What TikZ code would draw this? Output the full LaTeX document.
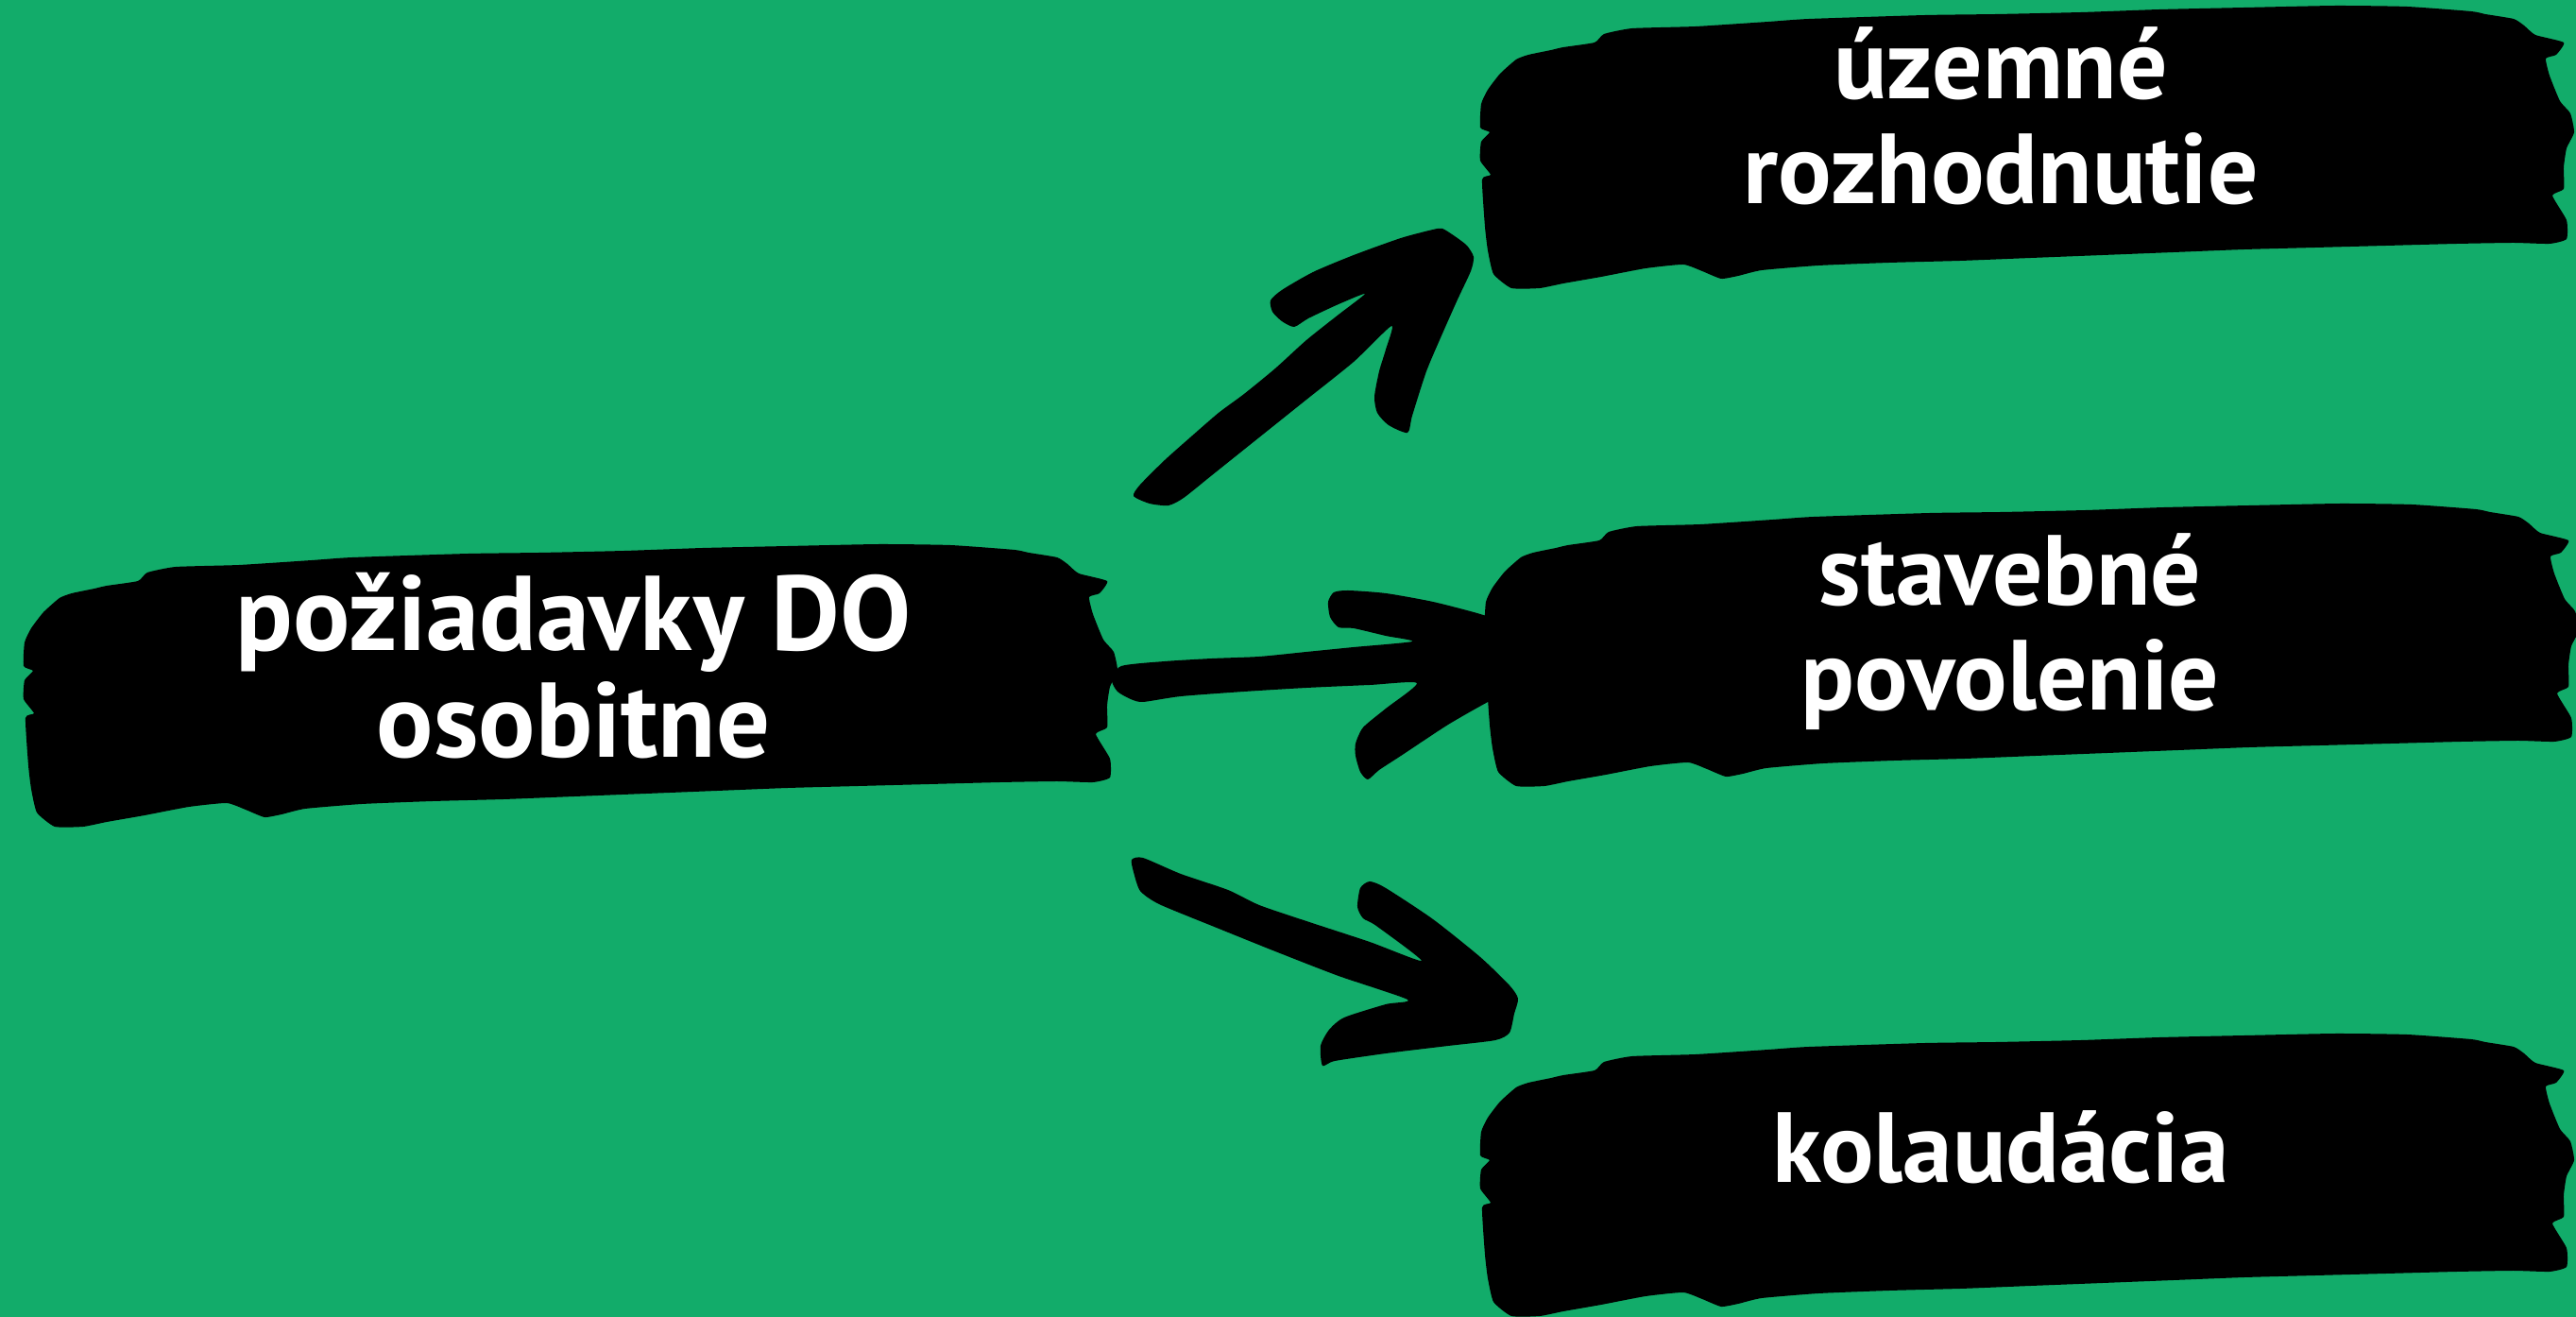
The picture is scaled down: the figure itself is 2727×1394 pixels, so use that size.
\documentclass[tikz,border=0pt]{standalone}
\usepackage{fontspec}
\setmainfont{PT Sans}
\usepackage{tikz}

\definecolor{brushgreen}{RGB}{18,172,106}

% one brush stroke box, #1 = shift of its top left corner
\newcommand{\brushbox}[1]{%
  \fill[black, shift={#1}] plot[smooth cycle, tension=0.3] coordinates {
    (10,95) (3,110) (2,135) (12,140) (3,150) (2,170) (13,185) (4,190) (7,240)
    (10,265) (16,290) (35,305) (65,305) (90,300) (130,293) (177,284) (217,280)
    (237,287) (257,295) (275,292) (300,286) (360,281) (435,278) (510,276)
    (585,273) (661,270) (736,267) (811,264) (886,262) (961,260) (1036,258)
    (1096,257) (1134,258) (1152,253) (1152,233) (1137,207) (1149,200)
    (1149,177) (1152,157) (1160,140) (1156,120) (1145,107) (1134,80) (1130,62)
    (1141,58) (1149,45) (1119,37) (1107,27) (1096,20) (1066,15) (1051,12)
    (983,7) (908,6) (811,8) (721,10) (638,13) (548,15) (473,16) (350,20)
    (307,23) (230,28) (163,30) (133,36) (123,45) (90,50) (77,53) (53,58)
    (40,63) (23,78)};}

\begin{document}
\begin{tikzpicture}[x=0.1mm, y=-0.1mm,
    boxtext/.style={text=white, font=\bfseries\fontsize{30}{31.8}\selectfont,
      align=center, anchor=base, inner sep=0pt},
    bigtext/.style={boxtext, font=\bfseries\fontsize{32}{32.4}\selectfont},
    brush/.style={fill=black}]
    % background
    \fill[brushgreen] (0,0) rectangle (2727,1394);
    \useasboundingbox (0,0) rectangle (2727,1394);

    % draw brush arrows
    \fill[brush] plot[smooth cycle, tension=0.4] coordinates {
      (1200,525) (1217,533) (1237,535) (1253,527) (1283,503) (1333,463)
      (1383,423) (1433,383) (1473,345) (1467,370) (1460,393) (1455,420)
      (1458,437) (1470,450) (1490,458) (1495,440) (1510,393) (1527,353)
      (1543,317) (1557,287) (1560,272) (1553,260) (1540,250) (1527,242)
      (1517,243) (1483,252) (1433,270) (1390,288) (1357,307) (1345,318)
      (1347,330) (1357,340) (1370,346) (1385,337) (1417,322) (1445,311)
      (1417,333) (1383,360) (1350,390) (1317,417) (1290,437) (1260,463)
      (1233,487) (1207,513)};
    \fill[brush] plot[smooth cycle, tension=0.4] coordinates {
      (1177,720) (1187,705) (1233,700) (1283,697) (1333,695) (1383,690)
      (1433,685) (1495,679) (1467,673) (1433,665) (1417,664) (1408,653)
      (1406,637) (1412,627) (1427,625) (1467,628) (1517,637) (1567,650)
      (1590,660) (1595,700) (1590,738) (1577,742) (1533,767) (1483,800)
      (1460,815) (1448,825) (1440,817) (1435,800) (1435,787) (1443,770)
      (1467,750) (1500,723) (1450,725) (1383,728) (1317,732) (1250,737)
      (1210,743) (1197,740) (1183,732)};
    \fill[brush] plot[smooth cycle, tension=0.4] coordinates {
      (1198,910) (1200,923) (1207,943) (1227,957) (1283,980) (1350,1007)
      (1417,1033) (1490,1058) (1467,1063) (1423,1077) (1407,1090) (1398,1107)
      (1400,1128) (1413,1123) (1467,1115) (1533,1107) (1583,1101) (1598,1093)
      (1603,1073) (1607,1057) (1598,1043) (1567,1013) (1517,973) (1467,940)
      (1450,933) (1440,940) (1437,960) (1443,972) (1457,980) (1505,1017)
      (1450,997) (1383,975) (1333,958) (1300,942) (1250,925) (1210,908)};

    % draw brush boxes
    \brushbox{(23,570)}
    \brushbox{(1565,0)}
    \brushbox{(1570,527)}
    \brushbox{(1565,1088)}

    % texts (anchor on the last line)
    \node[bigtext] (req) at (607,802) {požiadavky DO\\osobitne};
    \node[boxtext] (uzemne) at (2118,216) {územné\\rozhodnutie};
    \node[boxtext] (stavebne) at (2128,752) {stavebné\\povolenie};
    \node[boxtext] (kolaudacia) at (2118,1252) {kolaudácia};
\end{tikzpicture}
\end{document}
